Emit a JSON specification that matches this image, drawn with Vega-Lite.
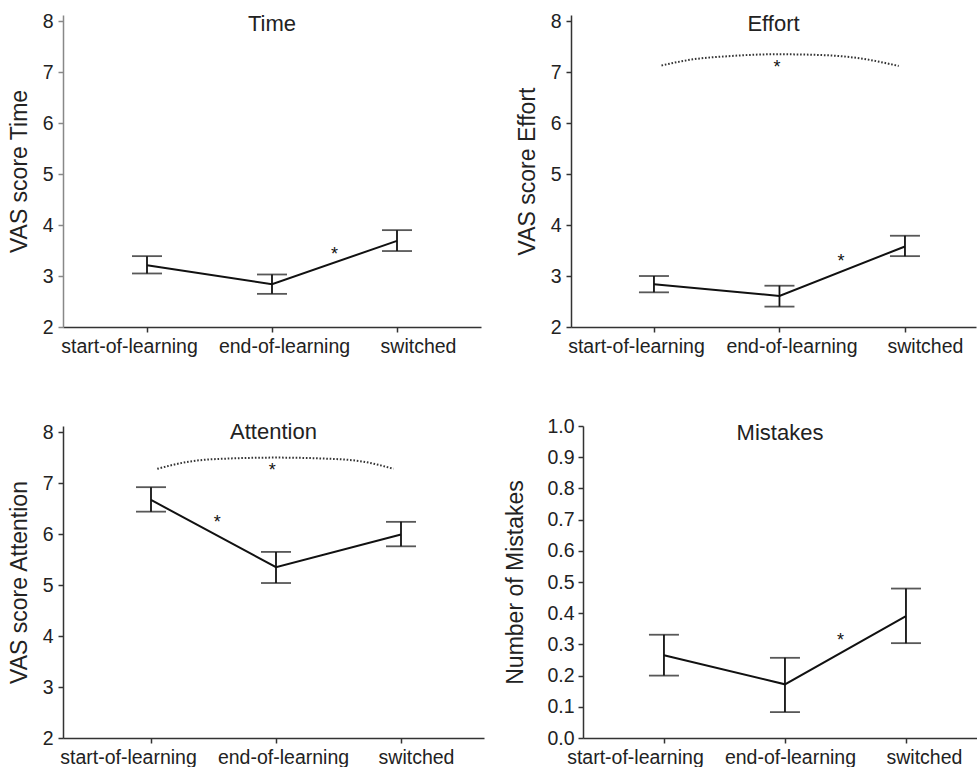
{
  "$schema": "https://vega.github.io/schema/vega-lite/v6.json",
  "background": "white",
  "padding": {"left": 8, "top": 11, "right": 0, "bottom": 0},
  "config": {
    "font": "Liberation Sans",
    "view": {"stroke": null},
    "axis": {"grid": false, "labelFont": "Liberation Sans", "labelFontSize": 19.5, "labelColor": "#222", "titleFont": "Liberation Sans", "titleFontSize": 23, "titleFontWeight": "normal", "titleColor": "#222", "domainColor": "#333", "tickColor": "#333", "domainWidth": 1.5, "tickWidth": 1.5, "tickSize": 5, "labelOverlap": false, "labelFlush": false},
    "title": {"font": "Liberation Sans", "fontSize": 22, "fontWeight": "normal", "color": "#222", "anchor": "middle", "baseline": "alphabetic"},
    "text": {"font": "Liberation Sans"}
  },
  "datasets": {
    "time": [
      {"pos": 0, "condition": "start-of-learning", "mean": 3.21, "lo": 3.05, "hi": 3.39},
      {"pos": 1, "condition": "end-of-learning", "mean": 2.84, "lo": 2.65, "hi": 3.03},
      {"pos": 2, "condition": "switched", "mean": 3.69, "lo": 3.49, "hi": 3.90}
    ],
    "effort": [
      {"pos": 0, "condition": "start-of-learning", "mean": 2.84, "lo": 2.68, "hi": 3.00},
      {"pos": 1, "condition": "end-of-learning", "mean": 2.61, "lo": 2.40, "hi": 2.81},
      {"pos": 2, "condition": "switched", "mean": 3.58, "lo": 3.39, "hi": 3.79}
    ],
    "attention": [
      {"pos": 0, "condition": "start-of-learning", "mean": 6.67, "lo": 6.44, "hi": 6.92},
      {"pos": 1, "condition": "end-of-learning", "mean": 5.35, "lo": 5.04, "hi": 5.65},
      {"pos": 2, "condition": "switched", "mean": 5.99, "lo": 5.76, "hi": 6.24}
    ],
    "mistakes": [
      {"pos": 0, "condition": "start-of-learning", "mean": 0.265, "lo": 0.2, "hi": 0.331},
      {"pos": 1, "condition": "end-of-learning", "mean": 0.172, "lo": 0.083, "hi": 0.257},
      {"pos": 2, "condition": "switched", "mean": 0.391, "lo": 0.304, "hi": 0.479}
    ],
    "time_star": [{"pos": 1.5, "value": 3.51}],
    "effort_star": [{"pos": 1.49, "value": 3.38}, {"pos": 0.98, "value": 7.17}],
    "attention_star": [{"pos": 0.53, "value": 6.32}, {"pos": 0.97, "value": 7.33}],
    "mistakes_star": [{"pos": 1.46, "value": 0.326}],
    "effort_bracket": [
      {"pos": 0.06, "value": 7.13}, {"pos": 0.31, "value": 7.25}, {"pos": 0.58, "value": 7.31},
      {"pos": 0.98, "value": 7.35}, {"pos": 1.38, "value": 7.33}, {"pos": 1.64, "value": 7.27}, {"pos": 1.95, "value": 7.12}
    ],
    "attention_bracket": [
      {"pos": 0.05, "value": 7.28}, {"pos": 0.3, "value": 7.42}, {"pos": 0.6, "value": 7.48},
      {"pos": 1.0, "value": 7.5}, {"pos": 1.4, "value": 7.48}, {"pos": 1.7, "value": 7.42}, {"pos": 1.94, "value": 7.28}
    ]
  },
  "spacing": 60,
  "vconcat": [
    {
      "spacing": 35,
      "hconcat": [
        {
          "width": 418, "height": 312,
          "title": {"text": "Time", "offset": -25},
          "encoding": {
            "x": {"field": "pos", "type": "quantitative", "scale": {"domain": [-0.672, 2.672], "nice": false, "zero": false},
              "axis": {"title": null, "values": [0, 1, 2], "labelExpr": "['start-of-learning','end-of-learning','switched'][datum.value]", "labelPadding": 5,
                "labelOffset": {"condition": [{"test": "datum.value === 0", "value": -18}, {"test": "datum.value === 2", "value": 21}], "value": 12}}}
          },
          "layer": [
            {
              "data": {"name": "time"},
              "mark": {"type": "line", "color": "#111", "strokeWidth": 2},
              "encoding": {"y": {"field": "mean", "type": "quantitative", "title": "VAS score Time", "scale": {"domain": [2, 8.12], "nice": false, "zero": false},
                "axis": {"values": [2, 3, 4, 5, 6, 7, 8], "labelPadding": 5, "titlePadding": 11, "domainColor": "#888", "tickColor": "#888"}}}
            },
            {
              "data": {"name": "time"},
              "mark": {"type": "errorbar", "ticks": true, "size": 30, "thickness": 1.8, "color": "#111"},
              "encoding": {"y": {"field": "lo", "type": "quantitative", "title": "VAS score Time",
                "axis": {"values": [2, 3, 4, 5, 6, 7, 8], "labelPadding": 5, "titlePadding": 11, "domainColor": "#888", "tickColor": "#888"}}, "y2": {"field": "hi"}}
            },
            {
              "data": {"name": "time_star"},
              "mark": {"type": "text", "text": "*", "fontSize": 18, "dy": 5, "color": "#111"},
              "encoding": {"y": {"field": "value", "type": "quantitative", "title": "VAS score Time",
                "axis": {"values": [2, 3, 4, 5, 6, 7, 8], "labelPadding": 5, "titlePadding": 11, "domainColor": "#888", "tickColor": "#888"}}}
            }
          ]
        },
        {
          "width": 405, "height": 312,
          "title": {"text": "Effort", "offset": -25},
          "encoding": {
            "x": {"field": "pos", "type": "quantitative", "scale": {"domain": [-0.661, 2.566], "nice": false, "zero": false},
              "axis": {"title": null, "values": [0, 1, 2], "labelExpr": "['start-of-learning','end-of-learning','switched'][datum.value]", "labelPadding": 5,
                "labelOffset": {"condition": [{"test": "datum.value === 0", "value": -18}, {"test": "datum.value === 2", "value": 20}], "value": 12}}}
          },
          "layer": [
            {
              "data": {"name": "effort_bracket"},
              "mark": {"type": "line", "color": "#333", "strokeWidth": 2, "strokeDash": [1.6, 1.8], "interpolate": "monotone"},
              "encoding": {"y": {"field": "value", "type": "quantitative", "title": "VAS score Effort", "scale": {"domain": [2, 8.12], "nice": false, "zero": false},
                "axis": {"values": [2, 3, 4, 5, 6, 7, 8], "labelPadding": 5, "titlePadding": 11}}}
            },
            {
              "data": {"name": "effort"},
              "mark": {"type": "line", "color": "#111", "strokeWidth": 2},
              "encoding": {"y": {"field": "mean", "type": "quantitative", "title": "VAS score Effort",
                "axis": {"values": [2, 3, 4, 5, 6, 7, 8], "labelPadding": 5, "titlePadding": 11}}}
            },
            {
              "data": {"name": "effort"},
              "mark": {"type": "errorbar", "ticks": true, "size": 30, "thickness": 1.8, "color": "#111"},
              "encoding": {"y": {"field": "lo", "type": "quantitative", "title": "VAS score Effort",
                "axis": {"values": [2, 3, 4, 5, 6, 7, 8], "labelPadding": 5, "titlePadding": 11}}, "y2": {"field": "hi"}}
            },
            {
              "data": {"name": "effort_star"},
              "mark": {"type": "text", "text": "*", "fontSize": 18, "dy": 5, "color": "#111"},
              "encoding": {"y": {"field": "value", "type": "quantitative", "title": "VAS score Effort",
                "axis": {"values": [2, 3, 4, 5, 6, 7, 8], "labelPadding": 5, "titlePadding": 11}}}
            }
          ]
        }
      ]
    },
    {
      "spacing": 20,
      "hconcat": [
        {
          "width": 421, "height": 312,
          "title": {"text": "Attention", "offset": -22},
          "encoding": {
            "x": {"field": "pos", "type": "quantitative", "scale": {"domain": [-0.704, 2.664], "nice": false, "zero": false},
              "axis": {"title": null, "values": [0, 1, 2], "labelExpr": "['start-of-learning','end-of-learning','switched'][datum.value]", "labelPadding": 5,
                "labelOffset": {"condition": [{"test": "datum.value === 0", "value": -23}, {"test": "datum.value === 2", "value": 15}], "value": 7}}}
          },
          "layer": [
            {
              "data": {"name": "attention_bracket"},
              "mark": {"type": "line", "color": "#333", "strokeWidth": 2, "strokeDash": [1.6, 1.8], "interpolate": "monotone"},
              "encoding": {"y": {"field": "value", "type": "quantitative", "title": "VAS score Attention", "scale": {"domain": [2, 8.12], "nice": false, "zero": false},
                "axis": {"values": [2, 3, 4, 5, 6, 7, 8], "labelPadding": 5, "titlePadding": 11}}}
            },
            {
              "data": {"name": "attention"},
              "mark": {"type": "line", "color": "#111", "strokeWidth": 2},
              "encoding": {"y": {"field": "mean", "type": "quantitative", "title": "VAS score Attention",
                "axis": {"values": [2, 3, 4, 5, 6, 7, 8], "labelPadding": 5, "titlePadding": 11}}}
            },
            {
              "data": {"name": "attention"},
              "mark": {"type": "errorbar", "ticks": true, "size": 30, "thickness": 1.8, "color": "#111"},
              "encoding": {"y": {"field": "lo", "type": "quantitative", "title": "VAS score Attention",
                "axis": {"values": [2, 3, 4, 5, 6, 7, 8], "labelPadding": 5, "titlePadding": 11}}, "y2": {"field": "hi"}}
            },
            {
              "data": {"name": "attention_star"},
              "mark": {"type": "text", "text": "*", "fontSize": 18, "dy": 5, "color": "#111"},
              "encoding": {"y": {"field": "value", "type": "quantitative", "title": "VAS score Attention",
                "axis": {"values": [2, 3, 4, 5, 6, 7, 8], "labelPadding": 5, "titlePadding": 11}}}
            }
          ]
        },
        {
          "width": 394, "height": 312,
          "title": {"text": "Mistakes", "offset": -29},
          "encoding": {
            "x": {"field": "pos", "type": "quantitative", "scale": {"domain": [-0.669, 2.587], "nice": false, "zero": false},
              "axis": {"title": null, "values": [0, 1, 2], "labelExpr": "['start-of-learning','end-of-learning','switched'][datum.value]", "labelPadding": 5,
                "labelOffset": {"condition": [{"test": "datum.value === 0", "value": -29}, {"test": "datum.value === 2", "value": 18}], "value": 5}}}
          },
          "layer": [
            {
              "data": {"name": "mistakes"},
              "mark": {"type": "line", "color": "#111", "strokeWidth": 2},
              "encoding": {"y": {"field": "mean", "type": "quantitative", "title": "Number of Mistakes", "scale": {"domain": [0, 1.0], "nice": false, "zero": false},
                "axis": {"values": [0, 0.1, 0.2, 0.3, 0.4, 0.5, 0.6, 0.7, 0.8, 0.9, 1.0], "format": ".1f", "labelPadding": 4, "titlePadding": 19}}}
            },
            {
              "data": {"name": "mistakes"},
              "mark": {"type": "errorbar", "ticks": true, "size": 30, "thickness": 1.8, "color": "#111"},
              "encoding": {"y": {"field": "lo", "type": "quantitative", "title": "Number of Mistakes",
                "axis": {"values": [0, 0.1, 0.2, 0.3, 0.4, 0.5, 0.6, 0.7, 0.8, 0.9, 1.0], "format": ".1f", "labelPadding": 4, "titlePadding": 19}}, "y2": {"field": "hi"}}
            },
            {
              "data": {"name": "mistakes_star"},
              "mark": {"type": "text", "text": "*", "fontSize": 18, "dy": 5, "color": "#111"},
              "encoding": {"y": {"field": "value", "type": "quantitative", "title": "Number of Mistakes",
                "axis": {"values": [0, 0.1, 0.2, 0.3, 0.4, 0.5, 0.6, 0.7, 0.8, 0.9, 1.0], "format": ".1f", "labelPadding": 4, "titlePadding": 19}}}
            }
          ]
        }
      ]
    }
  ]
}
